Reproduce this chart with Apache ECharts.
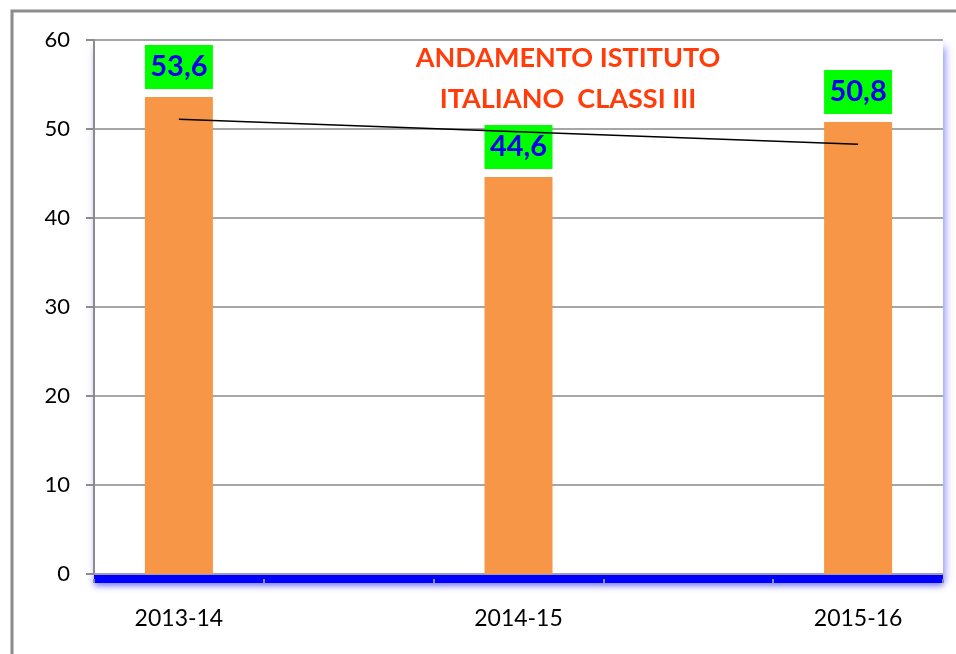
<!DOCTYPE html>
<html>
<head>
<meta charset="utf-8">
<script src="https://cdn.jsdelivr.net/npm/echarts@6/dist/echarts.min.js"></script>
<style>
  html, body { margin: 0; padding: 0; background: #fff; }
  #main { width: 956px; height: 654px; }
</style>
</head>
<body>
<div id="main"></div>
<script>
// years sit in every other slot, the empty slots keep the wide gaps
var years = ['2013-14', '', '2014-15', '', '2015-16'];
var values = [53.6, null, 44.6, null, 50.8];
// trend line (start and end only)
var trend = [51.1, null, null, null, 48.3];
var yTicks = [0, 10, 20, 30, 40, 50, 60];
var titleLines = ['ANDAMENTO ISTITUTO', 'ITALIANO  CLASSI III'];

var myChart = echarts.init(document.getElementById('main'));

var option = {
    animation: false,
    backgroundColor: '#fff',
    title: {
        text: titleLines.join('\n'),
        left: 563,
        top: 33,
        textAlign: 'center',
        textStyle: {
            color: '#ff3c0a',
            fontFamily: 'Lato',
            fontWeight: 'bold',
            fontSize: 27,
            lineHeight: 41
        }
    },
    graphic: [{
        type: 'rect',
        shape: { x: 12, y: 11, width: 1000, height: 1000 },
        style: { fill: 'none', stroke: '#8c8c8c', lineWidth: 3 },
        z: -1
    }],
    grid: {
        left: 94, right: 13, top: 40, bottom: 80,
        show: true,
        backgroundColor: '#fff',
        borderWidth: 0,
        shadowColor: 'rgba(60,60,255,0.6)',
        shadowBlur: 8,
        shadowOffsetX: 2,
        shadowOffsetY: 7
    },
    xAxis: {
        type: 'category',
        data: years,
        offset: 5,
        axisLine: {
            onZero: false,
            lineStyle: {
                color: '#0000ff', width: 8, cap: 'butt',
                shadowColor: 'rgba(0,0,255,0.45)', shadowBlur: 6, shadowOffsetY: 3
            }
        },
        axisTick: { show: true, length: 4, lineStyle: { color: '#8c8c8c', width: 2 } },
        axisLabel: {
            interval: 0,
            margin: 28,
            color: '#000',
            fontFamily: 'Lato',
            fontSize: 23
        }
    },
    yAxis: {
        type: 'value',
        min: yTicks[0],
        max: yTicks[yTicks.length - 1],
        interval: 10,
        axisLine: { show: true, lineStyle: { color: '#8c8c8c', width: 2 } },
        axisTick: { show: true, length: 8, lineStyle: { color: '#8c8c8c', width: 2 } },
        splitLine: { lineStyle: { color: '#a6a6a6', width: 2 } },
        axisLabel: {
            margin: 24,
            color: '#000',
            fontFamily: 'Lato',
            fontSize: 22
        }
    },
    series: [
        {
            name: 'valori',
            type: 'bar',
            data: values,
            barWidth: 68,
            itemStyle: { color: '#f79646' },
            label: {
                show: true,
                position: 'top',
                distance: 8,
                formatter: function (p) { return String(p.value).replace('.', ','); },
                backgroundColor: '#00ff00',
                width: 68,
                height: 44,
                lineHeight: 44,
                align: 'center',
                color: '#0000ee',
                fontFamily: 'Lato',
                fontWeight: 'bold',
                fontSize: 29
            }
        },
        {
            name: 'tendenza',
            type: 'line',
            data: trend,
            connectNulls: true,
            symbol: 'none',
            lineStyle: { color: '#000', width: 1.5 },
            z: 5
        }
    ]
};

myChart.setOption(option);
</script>
</body>
</html>
